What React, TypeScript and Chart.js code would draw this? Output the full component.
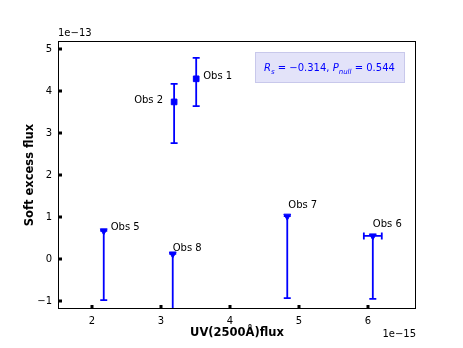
import React, { useEffect, useRef } from "react";
import { Chart, registerables } from "chart.js";

Chart.register(...registerables);

const obsLabels = ["Obs 1", "Obs 2", "Obs 5", "Obs 8", "Obs 7", "Obs 6"];
const uvFlux = [3.51, 3.19, 2.17, 3.17, 4.83, 6.07];
const softFlux = [4.29, 3.74, 0.67, 0.12, 1.02, 0.55];
const yErrLow = [3.64, 2.76, -0.98, -1.4, -0.93, -0.95];
const yErrHigh = [4.79, 4.17, 0.67, 0.12, 1.02, 0.55];
const xErrLow = [3.51, 3.19, 2.17, 3.17, 4.83, 5.94];
const xErrHigh = [3.51, 3.19, 2.17, 3.17, 4.83, 6.2];
const isUpperLimit = [false, false, true, true, true, true];
const xTickValues = [2, 3, 4, 5, 6];
const yTickValues = [-1, 0, 1, 2, 3, 4, 5];
const statText = { rs: "−0.314", pnull: "0.544" };

// label offsets in px relative to point: [dx, dy, align]
const labelOffsets: [number, number, CanvasTextAlign][] = [
  [7, -2, "left"],
  [-11, -2, "right"],
  [7, -3, "left"],
  [0, -6, "left"],
  [1, -11, "left"],
  [0, -12, "left"],
];

const BLUE = "#0000ff";
const FONT = "'DejaVu Sans', sans-serif";

const overlayPlugin = {
  id: "overlay",
  beforeDatasetsDraw(chart: any) {
    const ctx = chart.ctx as CanvasRenderingContext2D;
    const xs = chart.scales.x;
    const ys = chart.scales.y;
    const ca = chart.chartArea;
    ctx.save();
    ctx.beginPath();
    ctx.rect(ca.left, ca.top, ca.right - ca.left, ca.bottom - ca.top);
    ctx.clip();
    ctx.strokeStyle = BLUE;
    ctx.lineWidth = 1.8;
    for (let i = 0; i < uvFlux.length; i++) {
      const px = xs.getPixelForValue(uvFlux[i]);
      const yl = ys.getPixelForValue(yErrLow[i]);
      const yh = ys.getPixelForValue(yErrHigh[i]);
      ctx.beginPath();
      ctx.moveTo(px, yl);
      ctx.lineTo(px, yh);
      ctx.moveTo(px - 3.5, yl);
      ctx.lineTo(px + 3.5, yl);
      ctx.moveTo(px - 3.5, yh);
      ctx.lineTo(px + 3.5, yh);
      const py = ys.getPixelForValue(softFlux[i]);
      const xl = xs.getPixelForValue(xErrLow[i]);
      const xh = xs.getPixelForValue(xErrHigh[i]);
      if (xh - xl > 0.5) {
        ctx.moveTo(xl, py);
        ctx.lineTo(xh, py);
        ctx.moveTo(xl, py - 3.5);
        ctx.lineTo(xl, py + 3.5);
        ctx.moveTo(xh, py - 3.5);
        ctx.lineTo(xh, py + 3.5);
      }
      ctx.stroke();
    }
    ctx.restore();
  },
  afterDatasetsDraw(chart: any) {
    const ctx = chart.ctx as CanvasRenderingContext2D;
    const xs = chart.scales.x;
    const ys = chart.scales.y;
    const ca = chart.chartArea;

    // labels
    ctx.save();
    ctx.fillStyle = "#000";
    ctx.font = `10px ${FONT}`;
    ctx.textBaseline = "middle";
    for (let i = 0; i < uvFlux.length; i++) {
      const px = xs.getPixelForValue(uvFlux[i]);
      const py = ys.getPixelForValue(softFlux[i]);
      const [dx, dy, al] = labelOffsets[i];
      ctx.textAlign = al;
      ctx.fillText(obsLabels[i], px + dx, py + dy);
    }
    ctx.restore();

    // frame
    ctx.save();
    ctx.strokeStyle = "#000";
    ctx.lineWidth = 1;
    ctx.strokeRect(ca.left + 0.5, ca.top + 0.5, ca.right - ca.left - 1, ca.bottom - ca.top - 1);
    ctx.fillStyle = "#000";
    for (const v of xTickValues) {
      const px = Math.round(xs.getPixelForValue(v));
      ctx.fillRect(px - 1.5, ca.bottom - 4, 3, 3);
    }
    for (const v of yTickValues) {
      const py = Math.round(ys.getPixelForValue(v));
      ctx.fillRect(ca.left + 1, py - 1.5, 3, 3);
    }
    ctx.restore();

    // stat box
    ctx.save();
    const bx = ca.left + 197;
    const by = ca.top + 11;
    ctx.fillStyle = "rgba(220,220,248,0.8)";
    ctx.strokeStyle = "rgba(200,200,235,1)";
    ctx.lineWidth = 1;
    ctx.fillRect(bx, by, 150, 31);
    ctx.strokeRect(bx + 0.5, by + 0.5, 149, 30);
    ctx.fillStyle = BLUE;
    ctx.textBaseline = "alphabetic";
    ctx.textAlign = "left";
    let tx = bx + 9;
    const base = by + 19;
    const it = `italic 10px ${FONT}`;
    const rg = `10px ${FONT}`;
    const sub = `italic 7px ${FONT}`;
    const put = (s: string, f: string, dy = 0) => {
      ctx.font = f;
      ctx.fillText(s, tx, base + dy);
      tx += ctx.measureText(s).width;
    };
    put("R", it);
    put("s", sub, 2.5);
    put(" = ", rg);
    put(statText.rs + ", ", rg);
    put("P", it);
    put("null", sub, 2.5);
    put(" = " + statText.pnull, rg);
    ctx.restore();

    // titles and offsets
    ctx.save();
    ctx.fillStyle = "#000";
    ctx.font = `bold 11.5px ${FONT}`;
    ctx.textAlign = "center";
    ctx.textBaseline = "middle";
    ctx.fillText("UV(2500Å)flux", (ca.left + ca.right) / 2, 333);
    ctx.save();
    ctx.translate(30, (ca.top + ca.bottom) / 2);
    ctx.rotate(-Math.PI / 2);
    ctx.fillText("Soft excess flux", 0, 0);
    ctx.restore();
    ctx.font = `10px ${FONT}`;
    ctx.textAlign = "left";
    ctx.fillText("1e−13", ca.left, ca.top - 8);
    ctx.textAlign = "right";
    ctx.fillText("1e−15", ca.right, 334);
    ctx.restore();
  },
};

export default function App() {
  const ref = useRef<HTMLCanvasElement>(null);
  useEffect(() => {
    document.body.style.margin = "0";
    const chart = new Chart(ref.current!, {
      type: "scatter",
      data: {
        datasets: [
          {
            data: uvFlux.map((x, i) => ({ x, y: softFlux[i] })),
            backgroundColor: BLUE,
            borderColor: BLUE,
            pointStyle: ((c: any) => (isUpperLimit[c.dataIndex] ? "triangle" : "rect")) as any,
            rotation: ((c: any) => (isUpperLimit[c.dataIndex] ? 180 : 0)) as any,
            pointRadius: 4,
            pointBorderWidth: 1,
            borderWidth: 1,
          },
        ],
      },
      options: {
        animation: false,
        responsive: false,
        devicePixelRatio: 1,
        layout: { padding: { top: 41, right: 47, left: 0, bottom: 0 } },
        plugins: { legend: { display: false }, tooltip: { enabled: false } },
        scales: {
          x: {
            type: "linear",
            min: 1.507,
            max: 6.696,
            grid: { display: false, drawTicks: false },
            border: { display: false },
            afterBuildTicks: (s: any) => {
              s.ticks = xTickValues.map((v) => ({ value: v }));
            },
            afterFit: (s: any) => {
              s.height = 39;
            },
            ticks: { padding: 6, color: "#000", font: { family: FONT, size: 10 }, maxRotation: 0 },
          },
          y: {
            type: "linear",
            min: -1.19,
            max: 5.19,
            grid: { display: false, drawTicks: false },
            border: { display: false },
            afterBuildTicks: (s: any) => {
              s.ticks = yTickValues.map((v) => ({ value: v }));
            },
            afterFit: (s: any) => {
              s.width = 58;
            },
            ticks: {
              padding: 6,
              color: "#000",
              font: { family: FONT, size: 10 },
              callback: (v: any) => (v < 0 ? "−" + Math.abs(v) : String(v)),
            },
          },
        },
      },
      plugins: [overlayPlugin],
    });
    return () => chart.destroy();
  }, []);
  return <canvas ref={ref} width={463} height={348} style={{ display: "block" }} />;
}
